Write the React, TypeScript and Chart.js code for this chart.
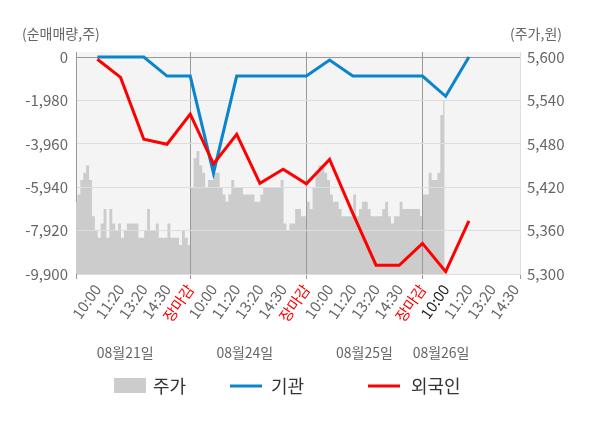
import React, { useEffect, useRef } from 'react';
import { Chart, registerables } from 'chart.js';

Chart.register(...registerables);

const FONT = "'Noto Sans CJK KR', 'Noto Sans', sans-serif";

// x축 시간 라벨 (슬롯 0..18)
const timeLabels = [
  '10:00', '11:20', '13:20', '14:30', '장마감',
  '10:00', '11:20', '13:20', '14:30', '장마감',
  '10:00', '11:20', '13:20', '14:30', '장마감',
  '10:00', '11:20', '13:20', '14:30',
];
const closeSlots = [4, 9, 14];
const currentSlot = 15;

// 날짜 라벨과 그 위치(슬롯)
const dayLabels = ['08월21일', '08월24일', '08월25일', '08월26일'];
const daySlots = [1.2, 6.35, 11.5, 14.8];

// 순매매량 (주)
const institution = [0, 0, 0, -870, -870, -5300, -870, -870, -870, -870, -140, -870, -870, -870, -870, -1790, 0];
const foreign = [-100, -930, -3750, -3980, -2600, -4880, -3530, -5760, -5120, -5780, -4670, -7130, -9500, -9500, -8500, -9790, -7480];

// 주가 (원), 슬롯 -0.92부터 0.125 슬롯 간격
const priceStart = -0.92;
const priceStep = 0.125;
const price = [
  5400, 5410, 5430, 5440, 5450, 5430, 5380, 5360, 5350, 5370,
  5390, 5350, 5390, 5370, 5360, 5370, 5350, 5360, 5370, 5370,
  5370, 5370, 5350, 5350, 5360, 5390, 5360, 5360, 5370, 5350,
  5350, 5350, 5370, 5350, 5350, 5350, 5340, 5360, 5350, 5340,
  5420, 5460, 5470, 5450, 5440, 5420, 5430, 5430, 5440, 5440,
  5420, 5410, 5400, 5410, 5430, 5420, 5420, 5420, 5410, 5410,
  5410, 5410, 5400, 5400, 5410, 5420, 5420, 5420, 5420, 5420,
  5420, 5430, 5370, 5360, 5370, 5370, 5390, 5390, 5380, 5380,
  5400, 5390, 5420, 5440, 5450, 5450, 5440, 5430, 5410, 5400,
  5400, 5390, 5380, 5380, 5380, 5380, 5410, 5380, 5390, 5400,
  5400, 5390, 5380, 5380, 5380, 5380, 5390, 5400, 5380, 5370,
  5380, 5380, 5400, 5390, 5390, 5390, 5390, 5390, 5390, 5380,
  5410, 5410, 5440, 5430, 5430, 5440, 5520, 5540,
];

// 축 눈금
const volumeTicks = [-9900, -7920, -5940, -3960, -1980, 0];
const priceTicks = [5300, 5360, 5420, 5480, 5540, 5600];

const X_MIN = -0.92;
const X_MAX = 18.2;
const VOL_MAX = 230;
const PRICE_MAX = 5600 + (VOL_MAX * 300) / 9900;

const extrasPlugin = {
  id: 'extras',
  beforeDraw(chart: any) {
    const { ctx, chartArea } = chart;
    ctx.save();
    ctx.fillStyle = '#f4f4f4';
    ctx.fillRect(chartArea.left, chartArea.top, chartArea.right - chartArea.left, chartArea.bottom - chartArea.top);
    ctx.restore();
  },
  afterDatasetDraw(chart: any, args: any) {
    // 주가 영역 위에 격자선 다시 그리기
    if (args.index !== 0) return;
    chart.scales.x.drawGrid(chart.chartArea);
    chart.scales.y.drawGrid(chart.chartArea);
  },
  afterDraw(chart: any) {
    const { ctx } = chart;
    const x = chart.scales.x;
    ctx.save();

    // 축 제목
    ctx.fillStyle = '#666';
    ctx.font = `14px ${FONT}`;
    ctx.textBaseline = 'middle';
    ctx.textAlign = 'left';
    ctx.fillText('(순매매량,주)', 22, 34);
    ctx.textAlign = 'right';
    ctx.fillText('(주가,원)', 562, 34);

    // 날짜
    ctx.textAlign = 'center';
    dayLabels.forEach((d, i) => {
      ctx.fillText(d, x.getPixelForValue(daySlots[i]), 353);
    });

    // 범례
    const ly = 386;
    ctx.font = `18px ${FONT}`;
    ctx.textAlign = 'left';
    ctx.fillStyle = '#cccccc';
    ctx.fillRect(114, ly - 8, 32, 15);
    ctx.fillStyle = '#333';
    ctx.fillText('주가', 153, ly);

    ctx.lineWidth = 3;
    ctx.strokeStyle = '#0a84cc';
    ctx.beginPath();
    ctx.moveTo(230, ly);
    ctx.lineTo(262, ly);
    ctx.stroke();
    ctx.fillText('기관', 271, ly);

    ctx.strokeStyle = '#ff0000';
    ctx.beginPath();
    ctx.moveTo(368, ly);
    ctx.lineTo(400, ly);
    ctx.stroke();
    ctx.fillText('외국인', 411, ly);

    ctx.restore();
  },
};

const App: React.FC = () => {
  const canvasRef = useRef<HTMLCanvasElement>(null);

  useEffect(() => {
    if (!canvasRef.current) return;
    Chart.defaults.font.family = FONT;

    const chart = new Chart(canvasRef.current, {
      type: 'line',
      data: {
        datasets: [
          {
            label: '주가',
            data: price.map((v, i) => ({ x: priceStart + i * priceStep, y: v })),
            yAxisID: 'y1',
            borderWidth: 0,
            backgroundColor: '#cccccc',
            fill: 'start',
            stepped: 'middle',
            pointRadius: 0,
            order: 3,
          },
          {
            label: '기관',
            data: institution.map((v, i) => ({ x: i, y: v })),
            yAxisID: 'y',
            borderColor: '#0a84cc',
            borderWidth: 3,
            pointRadius: 0,
            fill: false,
            order: 2,
          },
          {
            label: '외국인',
            data: foreign.map((v, i) => ({ x: i, y: v })),
            yAxisID: 'y',
            borderColor: '#ff0000',
            borderWidth: 3,
            pointRadius: 0,
            fill: false,
            order: 1,
          },
        ],
      },
      options: {
        responsive: true,
        maintainAspectRatio: false,
        animation: false,
        layout: { padding: { top: 52, bottom: 92, left: 0, right: 0 } },
        plugins: {
          legend: { display: false },
          tooltip: { enabled: false },
        },
        scales: {
          x: {
            type: 'linear',
            min: X_MIN,
            max: X_MAX,
            afterBuildTicks: (scale: any) => {
              scale.ticks = [X_MIN, ...timeLabels.map((_, i) => i), X_MAX].map((value) => ({ value }));
            },
            afterFit: (scale: any) => {
              scale.height = 62;
            },
            ticks: {
              autoSkip: false,
              minRotation: 55,
              maxRotation: 55,
              padding: 2,
              font: { size: 15 },
              color: (ctx: any) => {
                const v = ctx.tick?.value;
                if (closeSlots.includes(v)) return '#ff0000';
                if (v === currentSlot) return '#222';
                return '#666';
              },
              callback: (value: any) => (Number.isInteger(value) && timeLabels[value] ? timeLabels[value] : ''),
            },
            grid: {
              color: (ctx: any) => (closeSlots.includes(ctx.tick?.value) ? '#999' : 'rgba(0,0,0,0)'),
              tickColor: (ctx: any) => {
                const v = ctx.tick?.value;
                return closeSlots.includes(v) || v === X_MIN || v === X_MAX ? '#999' : 'rgba(0,0,0,0)';
              },
              tickLength: 5,
            },
            border: { color: '#999' },
          },
          y: {
            position: 'left',
            min: -9900,
            max: VOL_MAX,
            afterBuildTicks: (scale: any) => {
              scale.ticks = volumeTicks.map((value) => ({ value }));
            },
            afterFit: (scale: any) => {
              scale.width = 76;
            },
            ticks: {
              padding: 8,
              font: { size: 15 },
              color: '#666',
              callback: (value: any) => Number(value).toLocaleString('en-US'),
            },
            grid: {
              color: (ctx: any) => (ctx.tick?.value === 0 ? '#999' : '#dddddd'),
              drawTicks: false,
            },
            border: { color: '#999' },
          },
          y1: {
            position: 'right',
            min: 5300,
            max: PRICE_MAX,
            afterBuildTicks: (scale: any) => {
              scale.ticks = priceTicks.map((value) => ({ value }));
            },
            afterFit: (scale: any) => {
              scale.width = 80;
            },
            ticks: {
              padding: 7,
              font: { size: 15 },
              color: '#666',
              callback: (value: any) => Number(value).toLocaleString('en-US'),
            },
            grid: { drawOnChartArea: false, drawTicks: false },
            border: { color: '#dddddd' },
          },
        },
      },
      plugins: [extrasPlugin],
    });

    return () => {
      chart.destroy();
    };
  }, []);

  return (
    <div style={{ position: 'fixed', left: 0, top: 0, width: 600, height: 428, background: '#fff' }}>
      <canvas ref={canvasRef}></canvas>
    </div>
  );
};

export default App;
